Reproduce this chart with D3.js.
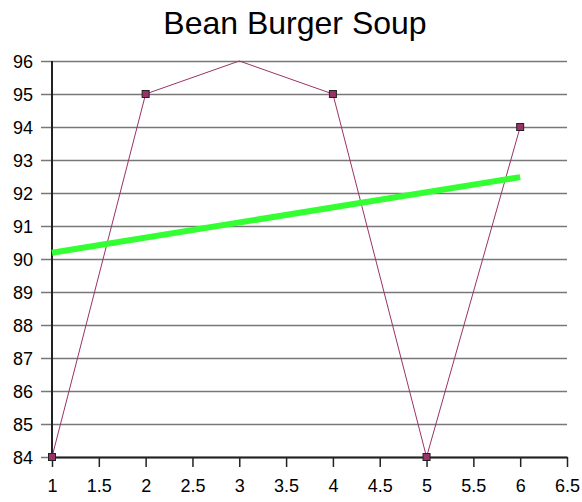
<html>
<head>
<style>
body { margin: 0; background: white; }
text { font-family: "Liberation Sans", Arial, sans-serif; fill: black; }
</style>
<script src="https://d3js.org/d3.v7.min.js"></script>
</head>
<body>
<svg id="chart" width="582" height="502"></svg>
<script>
// data
var xValues = [1, 2, 3, 4, 5, 6];
var yValues = [84, 95, 96, 95, 84, 94];
var trendX = [1, 6];
var trendY = [90.19, 92.48];
var xTicks = [1, 1.5, 2, 2.5, 3, 3.5, 4, 4.5, 5, 5.5, 6, 6.5];
var yTicks = [84, 85, 86, 87, 88, 89, 90, 91, 92, 93, 94, 95, 96];

var svg = d3.select("#chart");
var x = d3.scaleLinear().domain([1, 6.5]).range([52, 567]);
var y = d3.scaleLinear().domain([84, 96]).range([457, 61]);

svg.append("text").attr("x", 295).attr("y", 34)
  .attr("text-anchor", "middle").style("font-size", "32px")
  .text("Bean Burger Soup");

// gridlines + y labels
var gy = svg.append("g").attr("transform", "translate(52,0)")
  .call(d3.axisLeft(y).tickValues(yTicks).tickFormat(d3.format("d"))
    .tickSize(11).tickSizeOuter(0));
gy.select(".domain").remove();
gy.selectAll(".tick line").attr("stroke", "#777").attr("stroke-width", 1.5)
  .attr("x1", 515);
gy.selectAll(".tick text").attr("x", -19).style("font-size", "18px")
  .attr("dy", "0.36em");

// x axis
var gx = svg.append("g").attr("transform", "translate(0,457)")
  .call(d3.axisBottom(x).tickValues(xTicks).tickFormat(d3.format("")).tickSize(10).tickSizeOuter(0));
gx.select(".domain").attr("stroke", "#222").attr("stroke-width", 2);
gx.selectAll(".tick line").attr("stroke", "#222").attr("stroke-width", 1.5);
gx.selectAll(".tick text").attr("y", 22).style("font-size", "18px");

// y axis line
svg.append("line").attr("x1", 52).attr("x2", 52).attr("y1", y(96)).attr("y2", y(84))
  .attr("stroke", "#222").attr("stroke-width", 2);

var pts = xValues.map(function(d, i) { return [d, yValues[i]]; });
var line = d3.line().x(function(d) { return x(d[0]); }).y(function(d) { return y(d[1]); });

svg.append("path").datum(pts).attr("d", line).attr("fill", "none")
  .attr("stroke", "#993366").attr("stroke-width", 1);

// trend line
var trend = trendX.map(function(d, i) { return [d, trendY[i]]; });
svg.append("path").datum(trend).attr("d", line).attr("fill", "none")
  .attr("stroke", "#33ff33").attr("stroke-width", 6);

// markers (the one at the top edge is clipped away)
svg.selectAll("rect.m").data(pts.filter(function(d) { return d[1] < 96; }))
  .enter().append("rect").attr("class", "m")
  .attr("x", function(d) { return x(d[0]) - 3.5; })
  .attr("y", function(d) { return y(d[1]) - 3.5; })
  .attr("width", 7).attr("height", 7)
  .attr("fill", "#993366").attr("stroke", "#222").attr("stroke-width", 1);
</script>
</body>
</html>
